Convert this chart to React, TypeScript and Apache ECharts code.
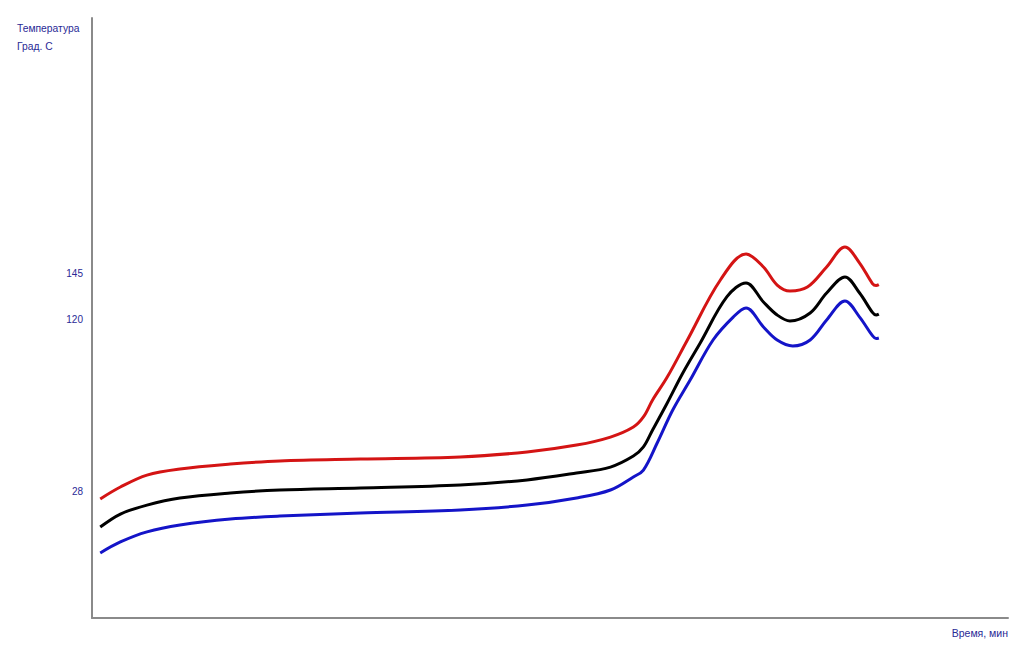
import React, { useEffect, useRef } from "react";
import * as echarts from "echarts";

// Time (min, arbitrary scale 0..100) and temperature (°C) readings for each curve
const redTime = [0.9, 3.1, 6.0, 9.6, 15.1, 20.5, 29.3, 40.2, 47.5, 52.9, 56.6, 59.1, 60.2, 61.2, 62.8, 65.0, 68.6, 71.4, 73.3, 74.8, 76.2, 78.1, 80.2, 82.2, 83.8, 85.2, 85.6, 85.9];
const redTemp = [23.9, 30.3, 36.7, 40.0, 42.6, 44.3, 45.3, 46.4, 49.1, 52.8, 57.1, 62.5, 67.9, 77.0, 89.3, 109.2, 141.4, 155.3, 148.4, 138.7, 135.5, 137.6, 148.4, 159.1, 150.5, 139.5, 138.4, 138.9];

const blackTime = [0.9, 3.1, 6.0, 9.6, 15.1, 20.5, 29.3, 40.2, 47.5, 52.9, 56.6, 59.1, 60.2, 61.2, 62.8, 64.5, 66.4, 69.3, 71.4, 73.3, 74.8, 76.2, 78.4, 80.2, 82.2, 83.8, 85.2, 85.6, 85.9];
const blackTemp = [8.8, 15.8, 20.6, 24.4, 27.1, 28.7, 29.8, 31.4, 34.1, 37.8, 41.0, 46.9, 51.8, 60.9, 75.4, 91.5, 107.6, 132.3, 139.8, 129.6, 122.6, 119.4, 123.7, 134.4, 143.0, 134.4, 124.0, 122.6, 123.1];

const blueTime = [0.9, 3.1, 6.0, 9.6, 15.1, 20.5, 29.3, 40.2, 47.5, 52.9, 56.6, 59.1, 60.2, 61.7, 63.4, 65.3, 67.8, 70.0, 71.4, 73.3, 74.8, 76.5, 78.4, 80.2, 82.2, 83.8, 85.2, 85.6, 85.9];
const blueTemp = [-5.1, 0.8, 6.2, 9.9, 13.1, 14.7, 16.3, 18.0, 20.6, 24.4, 28.7, 35.7, 39.4, 53.9, 71.6, 87.7, 109.2, 121.5, 126.4, 116.2, 109.2, 106.0, 109.2, 119.9, 130.1, 121.5, 111.5, 110.0, 110.3];

const yTickValues = [28, 120, 145];
const yTitle = "Температура\nГрад. С";
const xTitle = "Время, мин";

const TEXT_COLOR = "#2a2a96";
const FONT = "'Liberation Sans', Arial, sans-serif";

function pairs(t: number[], v: number[]) {
  return t.map((x, i) => [x, v[i]]);
}

export default function App() {
  const ref = useRef<HTMLDivElement>(null);
  useEffect(() => {
    if (!ref.current) return;
    const chart = echarts.init(ref.current, undefined, { renderer: "svg" });
    const lineSeries = (name: string, data: number[][], color: string) => ({
      name,
      type: "line",
      data,
      smooth: 0.35,
      showSymbol: false,
      symbol: "none",
      lineStyle: { color, width: 3 },
    });
    chart.setOption({
      animation: false,
      backgroundColor: "#ffffff",
      grid: { left: 92, right: 16, top: 18, bottom: 37, containLabel: false },
      xAxis: {
        type: "value",
        min: 0,
        max: 100,
        axisLine: { show: true, onZero: false, lineStyle: { color: "#8a8a8a", width: 2 } },
        axisTick: { show: false },
        axisLabel: { show: false },
        splitLine: { show: false },
      },
      yAxis: {
        type: "value",
        min: -40,
        max: 282,
        axisLine: { show: true, onZero: false, lineStyle: { color: "#8a8a8a", width: 2 } },
        axisTick: { show: false },
        splitLine: { show: false },
        axisLabel: {
          customValues: yTickValues,
          color: TEXT_COLOR,
          fontSize: 10,
          fontFamily: FONT,
          margin: 9,
        },
      },
      graphic: [
        {
          type: "text",
          left: 17,
          top: 19,
          style: {
            text: yTitle,
            fill: TEXT_COLOR,
            font: `10.3px ${FONT}`,
            lineHeight: 18,
          },
        },
        {
          type: "text",
          right: 16,
          top: 627,
          style: {
            text: xTitle,
            fill: TEXT_COLOR,
            font: `10.5px ${FONT}`,
          },
        },
      ],
      series: [
        lineSeries("red", pairs(redTime, redTemp), "#d41414"),
        lineSeries("black", pairs(blackTime, blackTemp), "#000000"),
        lineSeries("blue", pairs(blueTime, blueTemp), "#1414c8"),
      ],
    });
    return () => chart.dispose();
  }, []);
  return <div ref={ref} style={{ width: 1024, height: 655, margin: -8 }} />;
}
